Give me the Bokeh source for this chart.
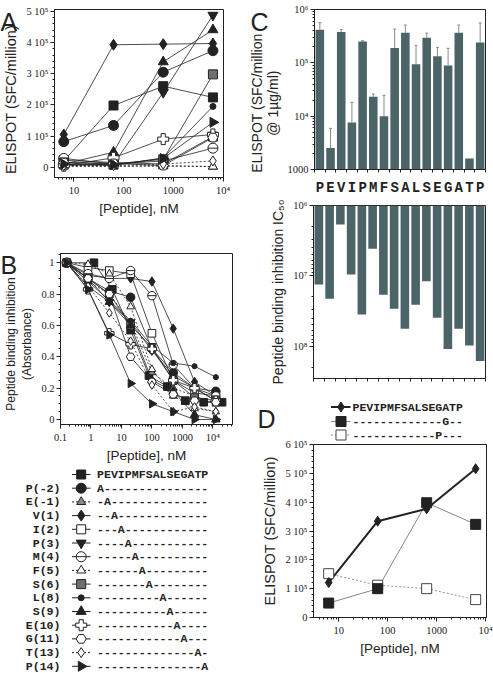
import math
from bokeh.plotting import figure
from bokeh.models import Range1d, FixedTicker, Whisker, ColumnDataSource, TeeHead
from bokeh.embed import file_html
from bokeh.resources import INLINE
from bokeh.core.properties import value

# ---------------- data ----------------
peptide_seq = "PEVIPMFSALSEGATP"
variant_names = ["", "P(-2)", "E(-1)", "V(1)", "I(2)", "P(3)", "M(4)", "F(5)",
                 "S(6)", "L(8)", "S(9)", "E(10)", "G(11)", "T(13)", "P(14)"]
variant_seqs = ["PEVIPMFSALSEGATP", "A---------------", "-A--------------",
                "--A-------------", "---A------------", "----A-----------",
                "-----A----------", "------A---------", "-------A--------",
                "---------A------", "----------A-----", "-----------A----",
                "------------A---", "--------------A-", "---------------A"]

# Panel A: ELISPOT (SFC/million) vs [Peptide] nM
a_conc = [6.25, 62.5, 625, 6250]
a_wt = [2.0e4, 1.98e5, 2.60e5, 2.24e5]
a_pm2 = [8.2e4, 1.34e5, 3.05e5, 3.74e5]
a_em1 = [5e3, 4e3, 3e3, 2e3]
a_v1 = [1.05e5, 3.93e5, 3.95e5, 3.97e5]
a_i2 = [2.2e4, 1.5e4, 1.0e4, 9.8e4]
a_p3 = [5e3, 1.0e4, 2.4e5, 4.88e5]
a_m4 = [2.8e4, 1.0e4, 2.0e4, 6.1e4]
a_f5 = [2e3, 2e3, 5e3, 2e3]
a_s6 = [1.5e4, 1.0e4, 2.5e4, 2.98e5]
a_l8 = [1.0e4, 5e3, 3.0e4, 1.95e5]
a_s9 = [1.0e4, 4.8e4, 3.38e5, 4.41e5]
a_e10 = [5e3, 3.0e4, 9.0e4, 1.05e5]
a_g11 = [1.5e4, 1.2e4, 5e3, 9.5e4]
a_t13 = [5e3, 5e3, 1.0e4, 2.0e4]
a_p14 = [1.0e4, 8e3, 2.8e4, 1.44e5]
a_series = [a_wt, a_pm2, a_em1, a_v1, a_i2, a_p3, a_m4, a_f5, a_s6, a_l8,
            a_s9, a_e10, a_g11, a_t13, a_p14]

# Panel B: peptide binding inhibition (absorbance) vs [Peptide] nM
b_conc = [0.16, 0.8, 4, 20, 100, 500, 2500, 12500]
b_wt_conc = [0.16, 1.25, 5, 20, 80, 320, 1250, 5000, 20000]
b_wt = [1.0, 1.0, 0.83, 0.57, 0.28, 0.21, 0.12, 0.11, 0.11]
b_pm2 = [1.0, 0.9, 0.82, 0.78, 0.45, 0.30, 0.20, 0.18]
b_em1 = [1.0, 0.88, 0.80, 0.62, 0.30, 0.20, 0.15, 0.10]
b_v1 = [1.0, 0.92, 0.90, 0.90, 0.88, 0.58, 0.24, 0.15]
b_i2 = [1.0, 0.97, 0.95, 0.93, 0.55, 0.25, 0.17, 0.15]
b_p3 = [1.0, 0.90, 0.75, 0.62, 0.44, 0.28, 0.20, 0.12]
b_m4 = [1.0, 0.93, 0.90, 0.95, 0.79, 0.35, 0.20, 0.15]
b_f5 = [1.0, 0.99, 0.93, 0.72, 0.32, 0.15, 0.07, 0.05]
b_s6 = [1.0, 0.90, 0.80, 0.60, 0.46, 0.25, 0.14, 0.12]
b_l8 = [1.0, 0.88, 0.76, 0.63, 0.47, 0.36, 0.34, 0.27]
b_s9 = [1.0, 0.85, 0.75, 0.60, 0.25, 0.18, 0.03, 0.0]
b_e10 = [1.0, 0.83, 0.55, 0.48, 0.45, 0.25, 0.20, 0.12]
b_g11 = [1.0, 0.90, 0.80, 0.40, 0.24, 0.16, 0.12, 0.11]
b_t13 = [1.0, 0.85, 0.68, 0.50, 0.22, 0.05, 0.08, 0.05]
b_p14 = [1.0, 0.83, 0.54, 0.23, 0.10, 0.05, 0.0, 0.0]
b_series = [b_wt, b_pm2, b_em1, b_v1, b_i2, b_p3, b_m4, b_f5, b_s6, b_l8,
            b_s9, b_e10, b_g11, b_t13, b_p14]

# Panel C: per-position alanine substitutions
c_letters = list(peptide_seq)
c_elispot = [4.19e5, 2.53e3, 3.8e5, 7.6e3, 2.5e5, 2.3e4, 1.0e4, 1.9e5,
             3.66e5, 9.4e4, 2.95e5, 1.33e5, 8.9e4, 3.66e5, 1.6e3, 2.4e5]
c_elispot_err = [5.66e5, 5.9e3, 4.2e5, 1.82e4, 2.6e5, 2.6e4, 2.46e4, 4.3e5,
                 5.1e5, 2.1e5, 3.6e5, 1.95e5, 1.87e5, 5.1e5, 1.6e3, 5.6e5]
c_ic50 = [1.33e7, 2.13e7, 1.86e6, 9.6e6, 3.56e7, 4.13e6, 1.87e7, 2.95e7,
          5.69e7, 2.59e7, 1.2e7, 3.97e7, 1.1e8, 5.69e7, 9.8e7, 1.64e8]

# Panel D
d_conc = [6.25, 62.5, 625, 6250]
d_wt = [1.21e5, 3.34e5, 3.77e5, 5.16e5]
d_g = [0.5e5, 1.0e5, 3.98e5, 3.23e5]
d_p = [1.52e5, 1.12e5, 1.0e5, 0.62e5]
d_legend = ["PEVIPMFSALSEGATP", "-------------G--", "------------P---"]

panel_letters = ["A", "B", "C", "D"]

# ---------------- styles ----------------
SANS = "Liberation Sans"
NARROW = "Liberation Sans Narrow"
MONO = "Liberation Mono"
INK = "#222222"
BAR = "#4b6467"
DOT = "2 2"

STYLES = [
    dict(marker="square", fill=INK, dash="solid", size=9, angle=0.0),
    dict(marker="circle", fill=INK, dash="solid", size=10, angle=0.0),
    dict(marker="triangle", fill="#8a8a8a", dash=DOT, size=9, angle=0.0),
    dict(marker="diamond", fill=INK, dash="solid", size=11, angle=0.0),
    dict(marker="square", fill="white", dash="solid", size=9, angle=0.0),
    dict(marker="inverted_triangle", fill=INK, dash="solid", size=10, angle=0.0),
    dict(marker="circle", fill="white", dash="solid", size=10, angle=0.0, bar=True),
    dict(marker="triangle", fill="white", dash=DOT, size=9, angle=0.0),
    dict(marker="square", fill="#6f6f6f", dash="solid", size=9, angle=0.0),
    dict(marker="circle", fill=INK, dash="solid", size=6, angle=0.0),
    dict(marker="triangle", fill=INK, dash="solid", size=10, angle=0.0),
    dict(marker="plus", fill="white", dash="solid", size=11, angle=0.0),
    dict(marker="hex", fill="white", dash="solid", size=10, angle=0.0),
    dict(marker="diamond", fill="white", dash=DOT, size=10, angle=0.0),
    dict(marker="triangle", fill=INK, dash="solid", size=10, angle=-math.pi / 2),
]


def place(p, left, top):
    p.styles = {"position": "absolute", "left": f"{left}px", "top": f"{top}px"}


def base_fig(w, h, l, r, t, b, **kw):
    p = figure(width=w, height=h, output_backend="svg", toolbar_location=None,
               min_border_left=l, min_border_right=r, min_border_top=t,
               min_border_bottom=b, **kw)
    p.xgrid.visible = False
    p.ygrid.visible = False
    p.outline_line_color = INK
    p.outline_line_width = 1
    p.background_fill_alpha = 0
    p.border_fill_alpha = 0
    for ax in p.xaxis + p.yaxis:
        ax.axis_line_color = INK
        ax.major_tick_line_color = INK
        ax.minor_tick_line_color = INK
        ax.major_tick_in = 0
        ax.major_tick_out = 4
        ax.minor_tick_in = 0
        ax.minor_tick_out = 2
        ax.major_label_text_font = NARROW
        ax.major_label_text_font_size = "10.5px"
        ax.major_label_text_color = INK
        ax.axis_label_text_font = SANS
        ax.axis_label_text_font_size = "13.5px"
        ax.axis_label_text_font_style = "normal"
        ax.axis_label_text_color = INK
    for ax in p.xaxis:
        ax.major_label_standoff = 3
        ax.axis_label_standoff = 2
    for ax in p.yaxis:
        ax.major_label_standoff = 2
        ax.axis_label_standoff = 4
        ax.axis_label_text_font_size = "14.5px"
    return p


def log_minor(lo, hi):
    return [m * 10 ** e for e in range(lo, hi) for m in range(2, 10)]


def draw_marker(p, x, y, st, scale=1.0, line_color=INK):
    p.scatter(x, y, marker=st["marker"], size=st["size"] * scale,
              fill_color=st["fill"], line_color=line_color, line_width=1,
              angle=st["angle"])
    if st.get("bar"):
        p.scatter(x, y, marker="dash", size=st["size"] * scale,
                  line_color=line_color, line_width=1)


SUP = "⁰¹²³⁴⁵⁶⁷⁸⁹"


def sup(n):
    return "".join(SUP[int(c)] for c in str(n))


# ---------------- Panel A ----------------
pA = base_fig(240, 218, 53, 17, 9, 35, x_axis_type="log",
              x_range=Range1d(4.06, 1.02e4), y_range=Range1d(-3.32e4, 5.062e5))
pA.xaxis.ticker = FixedTicker(ticks=[10, 100, 1000, 10000], minor_ticks=log_minor(0, 4))
pA.xaxis.major_label_overrides = {10: "10", 100: "100", 1000: "1000", 10000: "10" + sup(4)}
pA.yaxis.ticker = FixedTicker(ticks=[k * 1e5 for k in range(6)],
                              minor_ticks=[k * 2e4 for k in range(26)])
pA.yaxis.major_label_overrides = {k * 1e5: ("0" if k == 0 else f"{k} 10" + sup(5)) for k in range(6)}
pA.xaxis.axis_label = "[Peptide], nM"
pA.yaxis.axis_label = "ELISPOT (SFC/million)   "
for ys, st in zip(a_series, STYLES):
    pA.line(a_conc, ys, line_color=INK, line_width=0.8, line_dash=st["dash"])
for ys, st in zip(a_series, STYLES):
    draw_marker(pA, a_conc, ys, st)
place(pA, 0, 0)

# ---------------- Panel B ----------------
pB = base_fig(240, 247, 53, 8, 35, 40, x_axis_type="log",
              x_range=Range1d(0.1, 4.4e4), y_range=Range1d(-0.032, 1.059))
pB.xaxis.ticker = FixedTicker(ticks=[0.1, 1, 10, 100, 1000, 10000], minor_ticks=log_minor(-1, 5))
pB.xaxis.major_label_overrides = {0.1: "0.1", 1: "1", 10: "10", 100: "100", 1000: "1000", 10000: "10" + sup(4)}
pB.yaxis.ticker = FixedTicker(ticks=[0, 0.2, 0.4, 0.6, 0.8, 1.0],
                              minor_ticks=[k * 0.05 for k in range(22)])
pB.yaxis.major_label_overrides = {0: "0", 0.2: "0.2", 0.4: "0.4", 0.6: "0.6", 0.8: "0.8", 1.0: "1"}
pB.xaxis.axis_label = "[Peptide], nM"
pB.yaxis.axis_label = "Peptide binding inhibition   \n(Absorbance)   "
pB.yaxis.axis_label_text_font_size = "12px"
pB.yaxis.axis_label_text_line_height = 1.2
b_xs = [b_wt_conc] + [b_conc] * 14
for xs, ys, st in zip(b_xs, b_series, STYLES):
    pB.line(xs, ys, line_color=INK, line_width=0.8, line_dash=st["dash"])
for xs, ys, st in zip(b_xs, b_series, STYLES):
    draw_marker(pB, xs, ys, st, scale=0.85)
place(pB, 0, 218)

# ---------------- Panel C top ----------------
idx = list(range(len(c_letters)))
pCt = base_fig(248, 198, 68, 8, 9, 22, y_axis_type="log",
               x_range=Range1d(-0.5, 15.5), y_range=Range1d(1000, 1e6))
pCt.vbar(x=idx, top=c_elispot, bottom=pCt.y_range.start, width=0.8,
         fill_color=BAR, line_color=None)
err_idx = [i for i in idx if c_elispot_err[i] > c_elispot[i]]
src = ColumnDataSource(dict(x=err_idx, lo=[c_elispot[i] for i in err_idx],
                            hi=[c_elispot_err[i] for i in err_idx]))
pCt.add_layout(Whisker(source=src, base="x", lower="lo", upper="hi", dimension="height",
                       line_color="#8a8a8a", line_width=1,
                       upper_head=TeeHead(size=3, line_color="#8a8a8a"), lower_head=None))
pCt.xaxis.ticker = FixedTicker(ticks=idx, minor_ticks=[i - 0.5 for i in range(17)])
pCt.xaxis.major_label_overrides = {i: c for i, c in zip(idx, c_letters)}
pCt.xaxis.major_tick_out = 0
pCt.xaxis.minor_tick_out = 3
pCt.xaxis.major_label_text_font = MONO
pCt.xaxis.major_label_text_font_style = "bold"
pCt.xaxis.major_label_text_font_size = "14px"
pCt.xaxis.major_label_standoff = 7
pCt.yaxis.ticker = FixedTicker(ticks=[1e3, 1e4, 1e5, 1e6], minor_ticks=log_minor(3, 6))
pCt.yaxis.major_label_overrides = {1e3: "1000", 1e4: "10" + sup(4), 1e5: "10" + sup(5), 1e6: "10" + sup(6)}
pCt.yaxis.axis_label = "ELISPOT (SFC/million       \n@ 1µg/ml)       "
pCt.yaxis.axis_label_text_font_size = "14px"
pCt.yaxis.axis_label_text_line_height = 1.0
place(pCt, 245, 0)

# ---------------- Panel C bottom ----------------
pCb = base_fig(248, 190, 68, 8, 7, 10, y_axis_type="log",
               x_range=Range1d(-0.5, 15.5), y_range=Range1d(2.9e8, 1e6))
pCb.vbar(x=idx, top=pCb.y_range.end, bottom=c_ic50, width=0.8,
         fill_color=BAR, line_color=None)
pCb.xaxis.ticker = FixedTicker(ticks=[], minor_ticks=[i - 0.5 for i in range(17)])
pCb.xaxis.minor_tick_out = 3
pCb.xaxis.major_label_standoff = 0
pCb.yaxis.ticker = FixedTicker(ticks=[1e6, 1e7, 1e8], minor_ticks=log_minor(6, 9))
pCb.yaxis.major_label_overrides = {1e6: "10" + sup(6), 1e7: "10" + sup(7), 1e8: "10" + sup(8)}
pCb.yaxis.axis_label = "Peptide binding inhibition IC₅₀"
pCb.yaxis.axis_label_text_font_size = "14px"
place(pCb, 245, 198)

# ---------------- Panel D ----------------
d_styles = [dict(marker="diamond", fill=INK, dash="solid", size=10, angle=0.0, lw=2.0, lc=INK),
            dict(marker="square", fill=INK, dash="solid", size=10, angle=0.0, lw=0.8, lc="#666666"),
            dict(marker="square", fill="white", dash=DOT, size=10, angle=0.0, lw=0.8, lc="#777777")]
pD = base_fig(248, 243, 68, 7, 14, 56, x_axis_type="log",
              x_range=Range1d(3.06, 1.04e4), y_range=Range1d(0, 6e5))
pD.xaxis.ticker = FixedTicker(ticks=[10, 100, 1000, 10000], minor_ticks=log_minor(0, 5))
pD.xaxis.major_label_overrides = {10: "10", 100: "100", 1000: "1000", 10000: "10" + sup(4)}
pD.yaxis.ticker = FixedTicker(ticks=[k * 1e5 for k in range(7)],
                              minor_ticks=[k * 2e4 for k in range(31)])
pD.yaxis.major_label_overrides = {k * 1e5: ("0" if k == 0 else f"{k} 10" + sup(5)) for k in range(7)}
pD.xaxis.axis_label = "[Peptide], nM"
pD.yaxis.axis_label = "ELISPOT (SFC/million)"
for ys, st in zip([d_p, d_g, d_wt], d_styles[::-1]):
    pD.line(d_conc, ys, line_color=st["lc"], line_width=st["lw"], line_dash=st["dash"])
for ys, st in zip([d_p, d_g, d_wt], d_styles[::-1]):
    draw_marker(pD, d_conc, ys, st, line_color="#444444" if st["fill"] == "white" else INK)
place(pD, 245, 430)

# ---------------- overlay: panel letters and legends (page pixels) ----------------
W, H = 493, 673
pO = figure(width=W, height=H, output_backend="svg", toolbar_location=None,
            x_range=Range1d(0, W), y_range=Range1d(H, 0),
            x_axis_location=None, y_axis_location=None,
            min_border_left=0, min_border_right=0, min_border_top=0, min_border_bottom=0)
pO.xgrid.visible = False
pO.ygrid.visible = False
pO.outline_line_color = None
pO.background_fill_alpha = 0
pO.border_fill_alpha = 0
place(pO, 0, 0)

# panel letters
pO.text(x=[0, 0, 250, 257], y=[21, 264, 21.5, 418.5], text=panel_letters,
        text_font=value(SANS), text_font_size="25px", text_align="left",
        text_baseline="alphabetic", text_color=INK)

# legend of panel B
row_y = [474 + i * 13.7 for i in range(len(variant_names))]
pO.text(x=[60] * len(row_y), y=row_y, text=variant_names, text_font=value(MONO),
        text_font_style="bold", text_font_size="11.6px", text_align="right",
        text_baseline="middle", text_color=INK)
pO.text(x=[96.5] * len(row_y), y=row_y, text=variant_seqs, text_font=value(MONO),
        text_font_style="bold", text_font_size="11.6px", text_align="left",
        text_baseline="middle", text_color=INK)
for yy, st in zip(row_y, STYLES):
    pO.line([71.5, 90], [yy, yy], line_color=INK, line_width=1, line_dash=st["dash"])
    draw_marker(pO, [80.7], [yy], st)

# legend of panel D
leg_y = [406.5, 421, 434.5]
for yy, st in zip(leg_y, d_styles):
    pO.line([330.5, 350], [yy, yy], line_color=st["lc"], line_width=st["lw"], line_dash=st["dash"])
    draw_marker(pO, [340.5], [yy], st, line_color="#444444" if st["fill"] == "white" else INK)
pO.text(x=[352] * 3, y=leg_y, text=d_legend, text_font=value(MONO), text_font_style="bold",
        text_font_size="11.5px", text_align="left", text_baseline="middle", text_color=INK)

open("out.html", "w").write(file_html([pA, pB, pCt, pCb, pD, pO], INLINE))
